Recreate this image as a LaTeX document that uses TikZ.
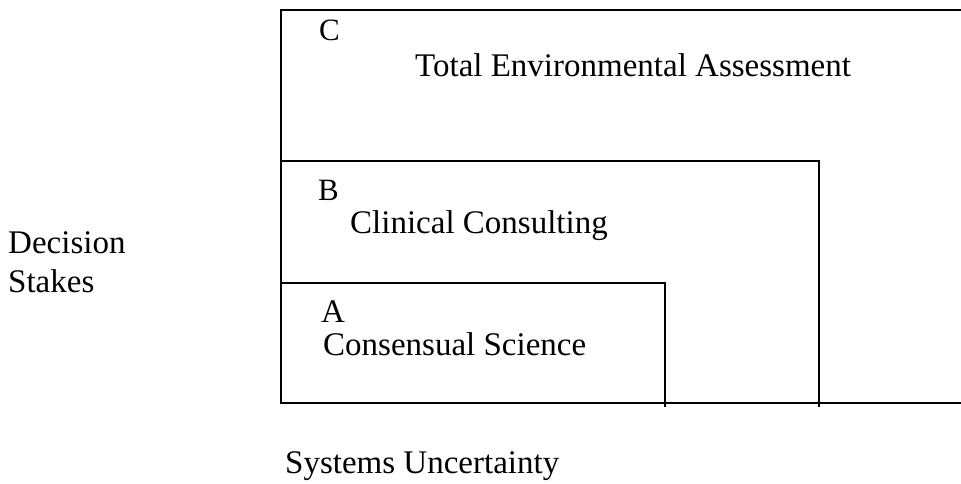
\documentclass[tikz,border=0pt]{standalone}
\usepackage{fontspec}
\setmainfont{Liberation Serif}
\begin{document}
\begin{tikzpicture}[x=1pt,y=-1pt,
  frame/.style={line width=1.6pt,black},
  lbl/.style={anchor=base west,inner sep=0pt,font=\fontsize{33}{38}\selectfont},
  letter/.style={anchor=base west,inner sep=0pt,font=\fontsize{31}{36}\selectfont}]
\useasboundingbox (0,0) rectangle (961,484);
% corner coordinates
\coordinate (ctl) at (281,10);
\coordinate (ctr) at (961,10);
\coordinate (btl) at (281,161);
\coordinate (btr) at (819,161);
\coordinate (bbr) at (819,407);
\coordinate (atl) at (281,283);
\coordinate (atr) at (665,283);
\coordinate (abr) at (665,407);
\coordinate (obl) at (281,403);
\coordinate (obr) at (961,403);
% frames
\draw[frame] (ctr) -- (ctl) -- (obl) -- (obr);
\draw[frame] (btl) -- (btr) -- (bbr);
\draw[frame] (atl) -- (atr) -- (abr);
% labels
\node[letter] (c) at (319,41) {C};
\node[lbl] (tea) at (415,77) {Total Environmental Assessment};
\node[letter] (b) at (318,200) {B};
\node[lbl] (cc) at (350,233) {Clinical Consulting};
\node[lbl] (a) at (321,322) {A};
\node[lbl] (cs) at (323,355) {Consensual Science};
\node[lbl] (ds) at (8,253) {Decision};
\node[lbl] (st) at (8,292) {Stakes};
\node[lbl] (su) at (285,473) {Systems Uncertainty};
\end{tikzpicture}
\end{document}
